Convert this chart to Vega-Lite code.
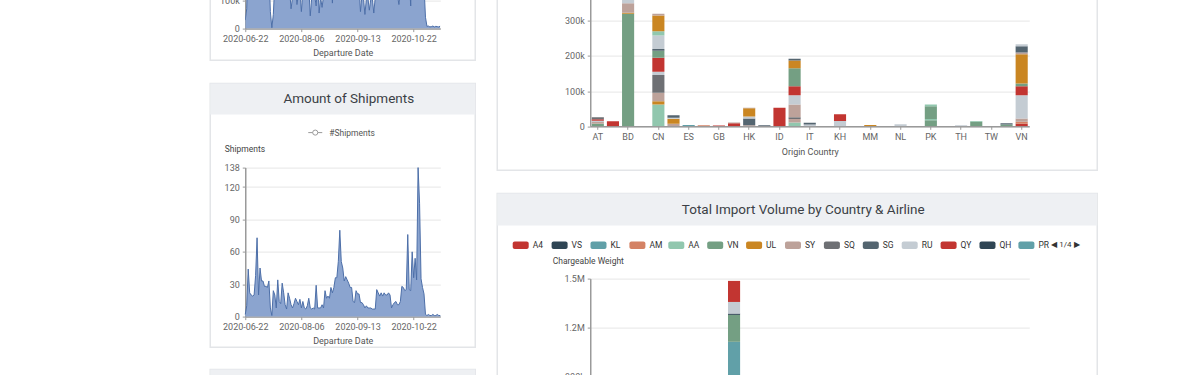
{
  "$schema": "https://vega.github.io/schema/vega-lite/v6.json",
  "autosize": {"type": "pad"},
  "padding": {"left": 209.25, "top": -121.4, "right": 0, "bottom": 0},
  "background": "#ffffff",
  "config": {
    "view": {"stroke": null},
    "font": "Roboto",
    "axis": {"labelFont": "Roboto", "labelFontSize": 9, "labelColor": "#666666", "titleFont": "Roboto", "titleFontSize": 9, "titleFontWeight": "normal", "titleColor": "#555555", "domainColor": "#9a9a9a", "domainWidth": 1.5, "tickColor": "#9a9a9a", "tickSize": 3, "gridColor": "#e6e6e6", "labelPadding": 3, "titlePadding": 5}
  },
  "datasets": {
    "ts": [
      {"d":"2020-06-22","n":2,"w":30000},{"d":"2020-06-23","n":10,"w":70000},{"d":"2020-06-24","n":44,"w":260000},{"d":"2020-06-25","n":22,"w":180000},{"d":"2020-06-26","n":20,"w":160000},{"d":"2020-06-27","n":19,"w":150000},{"d":"2020-06-29","n":20,"w":170000},{"d":"2020-06-30","n":38,"w":240000},{"d":"2020-07-01","n":73,"w":380000},{"d":"2020-07-02","n":20,"w":150000},{"d":"2020-07-03","n":45,"w":300000},{"d":"2020-07-06","n":33,"w":220000},{"d":"2020-07-07","n":33,"w":230000},{"d":"2020-07-08","n":28,"w":200000},{"d":"2020-07-09","n":28,"w":190000},{"d":"2020-07-10","n":27,"w":180000},{"d":"2020-07-11","n":33,"w":210000},{"d":"2020-07-13","n":8,"w":60000},{"d":"2020-07-14","n":1,"w":3000},{"d":"2020-07-15","n":24,"w":50000},{"d":"2020-07-16","n":20,"w":160000},{"d":"2020-07-17","n":8,"w":120000},{"d":"2020-07-18","n":34,"w":240000},{"d":"2020-07-20","n":14,"w":130000},{"d":"2020-07-21","n":12,"w":140000},{"d":"2020-07-22","n":31,"w":210000},{"d":"2020-07-23","n":22,"w":170000},{"d":"2020-07-24","n":11,"w":120000},{"d":"2020-07-25","n":7,"w":110000},{"d":"2020-07-27","n":22,"w":170000},{"d":"2020-07-28","n":17,"w":140000},{"d":"2020-07-29","n":11,"w":70000},{"d":"2020-07-30","n":8,"w":110000},{"d":"2020-07-31","n":12,"w":130000},{"d":"2020-08-01","n":17,"w":150000},{"d":"2020-08-03","n":14,"w":85000},{"d":"2020-08-04","n":11,"w":120000},{"d":"2020-08-05","n":16,"w":140000},{"d":"2020-08-06","n":8,"w":60000},{"d":"2020-08-07","n":14,"w":130000},{"d":"2020-08-08","n":8,"w":110000},{"d":"2020-08-09","n":7,"w":105000},{"d":"2020-08-10","n":10,"w":120000},{"d":"2020-08-11","n":17,"w":150000},{"d":"2020-08-12","n":8,"w":45000},{"d":"2020-08-13","n":7,"w":110000},{"d":"2020-08-14","n":8,"w":120000},{"d":"2020-08-15","n":7,"w":115000},{"d":"2020-08-16","n":29,"w":80000},{"d":"2020-08-17","n":8,"w":180000},{"d":"2020-08-18","n":8,"w":55000},{"d":"2020-08-19","n":8,"w":110000},{"d":"2020-08-20","n":11,"w":75000},{"d":"2020-08-21","n":8,"w":115000},{"d":"2020-08-22","n":24,"w":190000},{"d":"2020-08-23","n":17,"w":140000},{"d":"2020-08-24","n":19,"w":150000},{"d":"2020-08-25","n":17,"w":140000},{"d":"2020-08-26","n":27,"w":200000},{"d":"2020-08-27","n":22,"w":90000},{"d":"2020-08-28","n":27,"w":200000},{"d":"2020-08-29","n":36,"w":250000},{"d":"2020-08-30","n":36,"w":260000},{"d":"2020-08-31","n":51,"w":320000},{"d":"2020-09-01","n":80,"w":420000},{"d":"2020-09-02","n":51,"w":300000},{"d":"2020-09-03","n":45,"w":280000},{"d":"2020-09-04","n":33,"w":230000},{"d":"2020-09-05","n":37,"w":250000},{"d":"2020-09-06","n":34,"w":240000},{"d":"2020-09-07","n":31,"w":220000},{"d":"2020-09-08","n":27,"w":200000},{"d":"2020-09-09","n":27,"w":190000},{"d":"2020-09-10","n":14,"w":130000},{"d":"2020-09-11","n":13,"w":120000},{"d":"2020-09-12","n":24,"w":170000},{"d":"2020-09-13","n":21,"w":160000},{"d":"2020-09-14","n":21,"w":150000},{"d":"2020-09-15","n":13,"w":60000},{"d":"2020-09-16","n":13,"w":120000},{"d":"2020-09-17","n":11,"w":110000},{"d":"2020-09-18","n":8,"w":50000},{"d":"2020-09-19","n":10,"w":105000},{"d":"2020-09-20","n":8,"w":110000},{"d":"2020-09-21","n":8,"w":65000},{"d":"2020-09-22","n":8,"w":105000},{"d":"2020-09-23","n":7,"w":110000},{"d":"2020-09-24","n":7,"w":55000},{"d":"2020-09-25","n":7,"w":110000},{"d":"2020-09-26","n":25,"w":190000},{"d":"2020-09-27","n":22,"w":170000},{"d":"2020-09-28","n":19,"w":150000},{"d":"2020-09-29","n":22,"w":160000},{"d":"2020-09-30","n":19,"w":150000},{"d":"2020-10-01","n":22,"w":170000},{"d":"2020-10-02","n":20,"w":150000},{"d":"2020-10-03","n":20,"w":160000},{"d":"2020-10-05","n":22,"w":170000},{"d":"2020-10-06","n":20,"w":150000},{"d":"2020-10-07","n":8,"w":110000},{"d":"2020-10-08","n":11,"w":120000},{"d":"2020-10-09","n":13,"w":130000},{"d":"2020-10-10","n":14,"w":130000},{"d":"2020-10-11","n":11,"w":120000},{"d":"2020-10-12","n":11,"w":85000},{"d":"2020-10-13","n":14,"w":130000},{"d":"2020-10-14","n":28,"w":200000},{"d":"2020-10-15","n":27,"w":190000},{"d":"2020-10-16","n":24,"w":170000},{"d":"2020-10-17","n":25,"w":180000},{"d":"2020-10-18","n":76,"w":450000},{"d":"2020-10-19","n":25,"w":180000},{"d":"2020-10-20","n":24,"w":80000},{"d":"2020-10-21","n":60,"w":380000},{"d":"2020-10-22","n":36,"w":250000},{"d":"2020-10-23","n":54,"w":350000},{"d":"2020-10-24","n":34,"w":240000},{"d":"2020-10-25","n":138,"w":600000},{"d":"2020-10-26","n":105,"w":500000},{"d":"2020-10-27","n":35,"w":250000},{"d":"2020-10-28","n":27,"w":200000},{"d":"2020-10-29","n":21,"w":150000},{"d":"2020-10-30","n":2,"w":40000},{"d":"2020-10-31","n":1,"w":8000},{"d":"2020-11-01","n":2,"w":9000},{"d":"2020-11-02","n":1,"w":6000},{"d":"2020-11-03","n":1,"w":7000},{"d":"2020-11-04","n":2,"w":9000},{"d":"2020-11-05","n":1,"w":6000},{"d":"2020-11-06","n":1,"w":8000},{"d":"2020-11-07","n":2,"w":7000},{"d":"2020-11-08","n":1,"w":6000},{"d":"2020-11-09","n":1,"w":9000}
    ],
    "orig": [
      {"c":"AT","a":"VN","s":5,"v":7000},{"c":"AT","a":"SY","s":7,"v":5000},{"c":"AT","a":"RU","s":10,"v":4000},{"c":"AT","a":"QY","s":11,"v":4000},{"c":"AT","a":"MH","s":19,"v":6000},
      {"c":"AU","a":"A4","s":0,"v":14000},
      {"c":"BD","a":"VN","s":5,"v":320000},{"c":"BD","a":"UL","s":6,"v":3000},{"c":"BD","a":"SY","s":7,"v":27000},{"c":"BD","a":"RU","s":10,"v":15000},
      {"c":"CN","a":"AA","s":4,"v":62000},{"c":"CN","a":"UL","s":6,"v":9500},{"c":"CN","a":"SY","s":7,"v":24000},{"c":"CN","a":"SQ","s":8,"v":50000},{"c":"CN","a":"RU","s":10,"v":9500},{"c":"CN","a":"QY","s":11,"v":40000},{"c":"CN","a":"OS","s":16,"v":20000},{"c":"CN","a":"LX","s":20,"v":5000},{"c":"CN","a":"LH","s":21,"v":38000},{"c":"CN","a":"FX","s":26,"v":12000},{"c":"CN","a":"EK","s":28,"v":45000},{"c":"CN","a":"CZ","s":29,"v":5000},
      {"c":"DE","a":"SY","s":7,"v":7600},{"c":"DE","a":"NH","s":17,"v":14000},{"c":"DE","a":"LH","s":21,"v":3000},{"c":"DE","a":"CV","s":31,"v":7000},
      {"c":"ES","a":"KL","s":2,"v":3500},
      {"c":"FR","a":"AM","s":3,"v":3000},
      {"c":"GB","a":"A4","s":0,"v":2000},
      {"c":"GR","a":"A4","s":0,"v":9000},{"c":"GR","a":"SY","s":7,"v":2000},
      {"c":"HK","a":"SY","s":7,"v":3000},{"c":"HK","a":"SG","s":9,"v":19000},{"c":"HK","a":"RU","s":10,"v":6000},{"c":"HK","a":"NH","s":17,"v":23000},{"c":"HK","a":"MU","s":18,"v":2000},
      {"c":"HU","a":"SG","s":9,"v":3000},
      {"c":"ID","a":"A4","s":0,"v":53000},
      {"c":"IN","a":"AA","s":4,"v":11000},{"c":"IN","a":"SY","s":7,"v":10000},{"c":"IN","a":"SQ","s":8,"v":5000},{"c":"IN","a":"MU","s":18,"v":36000},{"c":"IN","a":"LH","s":21,"v":26000},{"c":"IN","a":"KE","s":22,"v":26000},{"c":"IN","a":"EY","s":27,"v":51000},{"c":"IN","a":"EK","s":28,"v":22000},{"c":"IN","a":"CV","s":31,"v":5000},
      {"c":"IT","a":"RU","s":10,"v":5000},{"c":"IT","a":"LX","s":20,"v":5000},
      {"c":"KH","a":"RU","s":10,"v":15000},{"c":"KH","a":"QY","s":11,"v":19000},
      {"c":"MM","a":"UL","s":6,"v":4000},
      {"c":"NL","a":"RU","s":10,"v":6000},
      {"c":"PK","a":"VN","s":5,"v":17000},{"c":"PK","a":"OZ","s":15,"v":4000},{"c":"PK","a":"OS","s":16,"v":36000},{"c":"PK","a":"FX","s":26,"v":5000},
      {"c":"TH","a":"RU","s":10,"v":3000},
      {"c":"TR","a":"VN","s":5,"v":13000},{"c":"TR","a":"OZ","s":15,"v":2000},
      {"c":"US","a":"VN","s":5,"v":5000},{"c":"US","a":"LX","s":20,"v":4000},
      {"c":"VN","a":"A4","s":0,"v":7600},{"c":"VN","a":"AM","s":3,"v":5000},{"c":"VN","a":"SY","s":7,"v":9500},{"c":"VN","a":"RU","s":10,"v":66000},{"c":"VN","a":"QY","s":11,"v":26000},{"c":"VN","a":"OS","s":16,"v":7500},{"c":"VN","a":"NH","s":17,"v":83000},{"c":"VN","a":"MU","s":18,"v":5000},{"c":"VN","a":"LX","s":20,"v":18000},{"c":"VN","a":"LH","s":21,"v":6000}
    ],
    "imp": [
      {"c":"GR","a":"KL","s":2,"v":1113000},{"c":"GR","a":"VN","s":5,"v":165000},{"c":"GR","a":"QH","s":12,"v":8000},{"c":"GR","a":"LH","s":21,"v":71000},{"c":"GR","a":"KE","s":22,"v":129000}
    ],
    "legendItems": [
      {"a":"A4"},{"a":"VS"},{"a":"KL"},{"a":"AM"},{"a":"AA"},{"a":"VN"},{"a":"UL"},{"a":"SY"},{"a":"SQ"},{"a":"SG"},{"a":"RU"},{"a":"QY"},{"a":"QH"},{"a":"PR"}
    ]
  },
  "hconcat": [
    {
      "bounds": "flush",
      "spacing": 0,
      "vconcat": [
        {"bounds": "flush", "spacing": 0, "hconcat": [
          {"width": 265, "height": 180.7, "view": {"stroke": "#e3e5e8", "strokeWidth": 1.5}, "data": {"values": []}, "mark": "point"}
        ]},
        {
          "bounds": "flush",
          "spacing": 0,
          "hconcat": [
            {"width": 35, "height": 1, "data": {"values": []}, "mark": "point"},
            {
              "width": 195, "height": 149,
              "data": {"name": "ts"},
              "encoding": {
                "x": {"field": "d", "type": "ordinal", "sort": null, "scale": {"type": "point", "padding": 0},
                  "axis": {"values": ["2020-06-22","2020-08-06","2020-09-13","2020-10-22"], "labelAngle": 0, "title": "Departure Date", "grid": false}},
                "y": {"field": "w", "type": "quantitative", "scale": {"domain": [0, 526000]},
                  "axis": {"values": [0,100000,200000,300000,400000,500000], "labelExpr": "format(datum.value, '~s')", "title": null, "grid": true}}
              },
              "layer": [
                {"mark": {"type": "area", "color": "#8ba4cf", "opacity": 1, "clip": true}},
                {"mark": {"type": "line", "color": "#4c6ea8", "strokeWidth": 1, "clip": true}}
              ]
            }
          ]
        },
        {"width": 1, "height": 204, "data": {"values": []}, "mark": "point"},
        {"bounds": "flush", "spacing": 0, "hconcat": [
          {"width": 265, "height": 263.7, "view": {"stroke": "#e3e5e8", "strokeWidth": 1.5}, "data": {"values": []}, "mark": "point"}
        ]},
        {
          "width": 265, "height": 31,
          "view": {"fill": "#eef0f3"},
          "data": {"values": [{"t": "Amount of Shipments"}]},
          "mark": {"type": "text", "font": "Roboto", "fontSize": 13.5, "color": "#3b3f45", "dx": 6},
          "encoding": {"text": {"field": "t"}}
        },
        {"width": 1, "height": 12.7, "data": {"values": []}, "mark": "point"},
        {
          "bounds": "flush",
          "spacing": 0,
          "hconcat": [
            {"width": 98, "height": 1, "data": {"values": []}, "mark": "point"},
            {
              "width": 14, "height": 10,
              "data": {"values": [{"s": "#Shipments"}]},
              "layer": [
                {"mark": {"type": "rule", "color": "#9a9a9a", "strokeWidth": 1},
                  "encoding": {"x": {"datum": -1, "type": "quantitative", "scale": {"domain": [-1, 1]}, "axis": null}, "x2": {"datum": 1},
                    "y": {"datum": 0, "type": "quantitative", "scale": {"domain": [-1, 1]}, "axis": null}}},
                {"mark": {"type": "point", "shape": "circle", "size": 26, "filled": true, "fill": "#ffffff", "stroke": "#9a9a9a", "strokeWidth": 1, "opacity": 1},
                  "encoding": {"x": {"datum": 0, "type": "quantitative", "scale": {"domain": [-1, 1]}, "axis": null},
                    "y": {"datum": 0, "type": "quantitative", "scale": {"domain": [-1, 1]}, "axis": null}}},
                {"mark": {"type": "text", "align": "left", "dx": 7, "fontSize": 8.5, "color": "#555555"},
                  "encoding": {"x": {"datum": 1, "type": "quantitative", "scale": {"domain": [-1, 1]}, "axis": null},
                    "y": {"datum": 0, "type": "quantitative", "scale": {"domain": [-1, 1]}, "axis": null}, "text": {"field": "s"}}}
              ]
            }
          ]
        },
        {"width": 1, "height": 39.7, "data": {"values": []}, "mark": "point"},
        {
          "bounds": "flush",
          "spacing": 0,
          "hconcat": [
            {"width": 35, "height": 1, "data": {"values": []}, "mark": "point"},
            {
              "width": 195, "height": 149,
              "data": {"name": "ts"},
              "encoding": {
                "x": {"field": "d", "type": "ordinal", "sort": null, "scale": {"type": "point", "padding": 0},
                  "axis": {"values": ["2020-06-22","2020-08-06","2020-09-13","2020-10-22"], "labelAngle": 0, "title": "Departure Date", "grid": false}},
                "y": {"field": "n", "type": "quantitative", "scale": {"domain": [0, 138]},
                  "axis": {"values": [0,30,60,90,120,138], "title": "Shipments", "titleAngle": 0, "titleAlign": "left", "titleBaseline": "middle", "titleX": -21, "titleY": -18.7, "titleFontSize": 8.5, "titleColor": "#444444", "grid": true}}
              },
              "layer": [
                {"mark": {"type": "area", "color": "#8ba4cf", "opacity": 1}},
                {"mark": {"type": "line", "color": "#4c6ea8", "strokeWidth": 1}}
              ]
            }
          ]
        },
        {"width": 1, "height": 201.3, "data": {"values": []}, "mark": "point"},
        {"bounds": "flush", "spacing": 0, "hconcat": [
          {"width": 265, "height": 150, "view": {"stroke": "#e3e5e8", "strokeWidth": 1.5}, "data": {"values": []}, "mark": "point"}
        ]},
        {"width": 265, "height": 31, "view": {"fill": "#eef0f3"}, "data": {"values": []}, "mark": "point"}
      ]
    },
    {
      "bounds": "flush",
      "spacing": 0,
      "vconcat": [
        {"bounds": "flush", "spacing": 0, "hconcat": [
          {"width": 600, "height": 290.7, "view": {"stroke": "#e3e5e8", "strokeWidth": 1.5}, "data": {"values": []}, "mark": "point"}
        ]},
        {"width": 1, "height": 106, "data": {"values": []}, "mark": "point"},
        {
          "bounds": "flush",
          "spacing": 0,
          "hconcat": [
            {"width": 93, "height": 1, "data": {"values": []}, "mark": "point"},
            {
              "width": 439, "height": 140.7,
              "data": {"name": "orig"},
              "mark": {"type": "bar", "clip": true},
              "encoding": {
                "x": {"field": "c", "type": "nominal",
                  "scale": {"domain": ["AT","AU","BD","BE","CN","DE","ES","FR","GB","GR","HK","HU","ID","IN","IT","JP","KH","KR","MM","MY","NL","PH","PK","SG","TH","TR","TW","US","VN"], "paddingInner": 0.2, "paddingOuter": 0.1},
                  "axis": {"values": ["AT","BD","CN","ES","GB","HK","ID","IT","KH","MM","NL","PK","TH","TW","VN"], "labelAngle": 0, "title": "Origin Country", "titlePadding": 6}},
                "y": {"field": "v", "type": "quantitative", "aggregate": "sum", "stack": "zero", "scale": {"domain": [0, 400000]},
                  "axis": {"values": [0,100000,200000,300000,400000], "labelExpr": "format(datum.value, '~s')", "title": "Chargeable Weight", "titleAngle": 0, "titleAlign": "left", "titleX": -38, "titleY": -18, "grid": true}},
                "color": {"field": "a", "type": "nominal", "legend": null,
                  "scale": {"domain": ["A4","VS","KL","AM","AA","VN","UL","SY","SQ","SG","RU","QY","QH","PR","PO","OZ","OS","NH","MU","MH","LX","LH","KE","JL","HX","GA","FX","EY","EK","CZ","CX","CV"],
                    "range": ["#c23531","#2f4554","#61a0a8","#d48265","#91c7ae","#749f83","#ca8622","#bda29a","#6e7074","#546570","#c4ccd3","#c23531","#2f4554","#61a0a8","#d48265","#91c7ae","#749f83","#ca8622","#bda29a","#6e7074","#546570","#c4ccd3","#c23531","#2f4554","#61a0a8","#d48265","#91c7ae","#749f83","#ca8622","#bda29a","#6e7074","#546570"]}},
                "order": {"field": "s", "type": "quantitative"}
              }
            }
          ]
        },
        {"width": 1, "height": 208, "data": {"values": []}, "mark": "point"},
        {"bounds": "flush", "spacing": 0, "hconcat": [
          {"width": 600, "height": 400, "view": {"stroke": "#e3e5e8", "strokeWidth": 1.5}, "data": {"values": []}, "mark": "point"}
        ]},
        {
          "width": 600, "height": 32,
          "view": {"fill": "#eef0f3"},
          "data": {"values": [{"t": "Total Import Volume by Country & Airline"}]},
          "mark": {"type": "text", "font": "Roboto", "fontSize": 13.5, "color": "#3b3f45", "dx": 6},
          "encoding": {"text": {"field": "t"}}
        },
        {"width": 1, "height": 15.4, "data": {"values": []}, "mark": "point"},
        {
          "bounds": "flush",
          "spacing": 0,
          "hconcat": [
            {"width": 3.25, "height": 1, "data": {"values": []}, "mark": "point"},
            {
              "width": 583.5, "height": 7.3,
              "data": {"name": "legendItems"},
              "encoding": {
                "x": {"field": "a", "type": "nominal", "sort": null,
                  "scale": {"domain": ["A4","VS","KL","AM","AA","VN","UL","SY","SQ","SG","RU","QY","QH","PR","◀ 1/4 ▶"], "paddingInner": 0, "paddingOuter": 0}, "axis": null}
              },
              "layer": [
                {"mark": {"type": "bar", "width": 16, "cornerRadius": 2},
                  "encoding": {"color": {"field": "a", "type": "nominal", "legend": null,
                    "scale": {"domain": ["A4","VS","KL","AM","AA","VN","UL","SY","SQ","SG","RU","QY","QH","PR"],
                      "range": ["#c23531","#2f4554","#61a0a8","#d48265","#91c7ae","#749f83","#ca8622","#bda29a","#6e7074","#546570","#c4ccd3","#c23531","#2f4554","#61a0a8"]}}}},
                {"mark": {"type": "text", "align": "left", "dx": 12, "fontSize": 8.5, "color": "#333333"},
                  "encoding": {"text": {"field": "a"}}},
                {"data": {"values": [{"a": "◀ 1/4 ▶"}]},
                  "mark": {"type": "text", "align": "left", "dx": -14, "fontSize": 8, "color": "#333333"},
                  "encoding": {"text": {"field": "a"}}}
              ]
            }
          ]
        },
        {"width": 1, "height": 37, "data": {"values": []}, "mark": "point"},
        {
          "bounds": "flush",
          "spacing": 0,
          "hconcat": [
            {"width": 93, "height": 1, "data": {"values": []}, "mark": "point"},
            {
              "width": 439, "height": 245,
              "data": {"name": "imp"},
              "mark": {"type": "bar"},
              "encoding": {
                "x": {"field": "c", "type": "nominal",
                  "scale": {"domain": ["AT","AU","BD","BE","CN","DE","ES","FR","GB","GR","HK","HU","ID","IN","IT","JP","KH","KR","MM","MY","NL","PH","PK","SG","TH","TR","TW","US","VN"], "paddingInner": 0.2, "paddingOuter": 0.1},
                  "axis": {"values": ["AT","BD","CN","ES","GB","HK","ID","IT","KH","MM","NL","PK","TH","TW","VN"], "labelAngle": 0, "title": "Country"}},
                "y": {"field": "v", "type": "quantitative", "aggregate": "sum", "stack": "zero", "scale": {"domain": [0, 1500000]},
                  "axis": {"values": [0,300000,600000,900000,1200000,1500000], "labelExpr": "format(datum.value, '~s')", "title": "Chargeable Weight", "titleAngle": 0, "titleAlign": "left", "titleBaseline": "middle", "titleX": -38, "titleY": -18.4, "titleFontSize": 8.5, "titleColor": "#444444", "grid": true}},
                "color": {"field": "a", "type": "nominal", "legend": null,
                  "scale": {"domain": ["A4","VS","KL","AM","AA","VN","UL","SY","SQ","SG","RU","QY","QH","PR","PO","OZ","OS","NH","MU","MH","LX","LH","KE","JL","HX","GA","FX","EY","EK","CZ","CX","CV"],
                    "range": ["#c23531","#2f4554","#61a0a8","#d48265","#91c7ae","#749f83","#ca8622","#bda29a","#6e7074","#546570","#c4ccd3","#c23531","#2f4554","#61a0a8","#d48265","#91c7ae","#749f83","#ca8622","#bda29a","#6e7074","#546570","#c4ccd3","#c23531","#2f4554","#61a0a8","#d48265","#91c7ae","#749f83","#ca8622","#bda29a","#6e7074","#546570"]}},
                "order": {"field": "s", "type": "quantitative"}
              }
            }
          ]
        }
      ]
    }
  ],
  "spacing": 287,
  "bounds": "flush"
}
